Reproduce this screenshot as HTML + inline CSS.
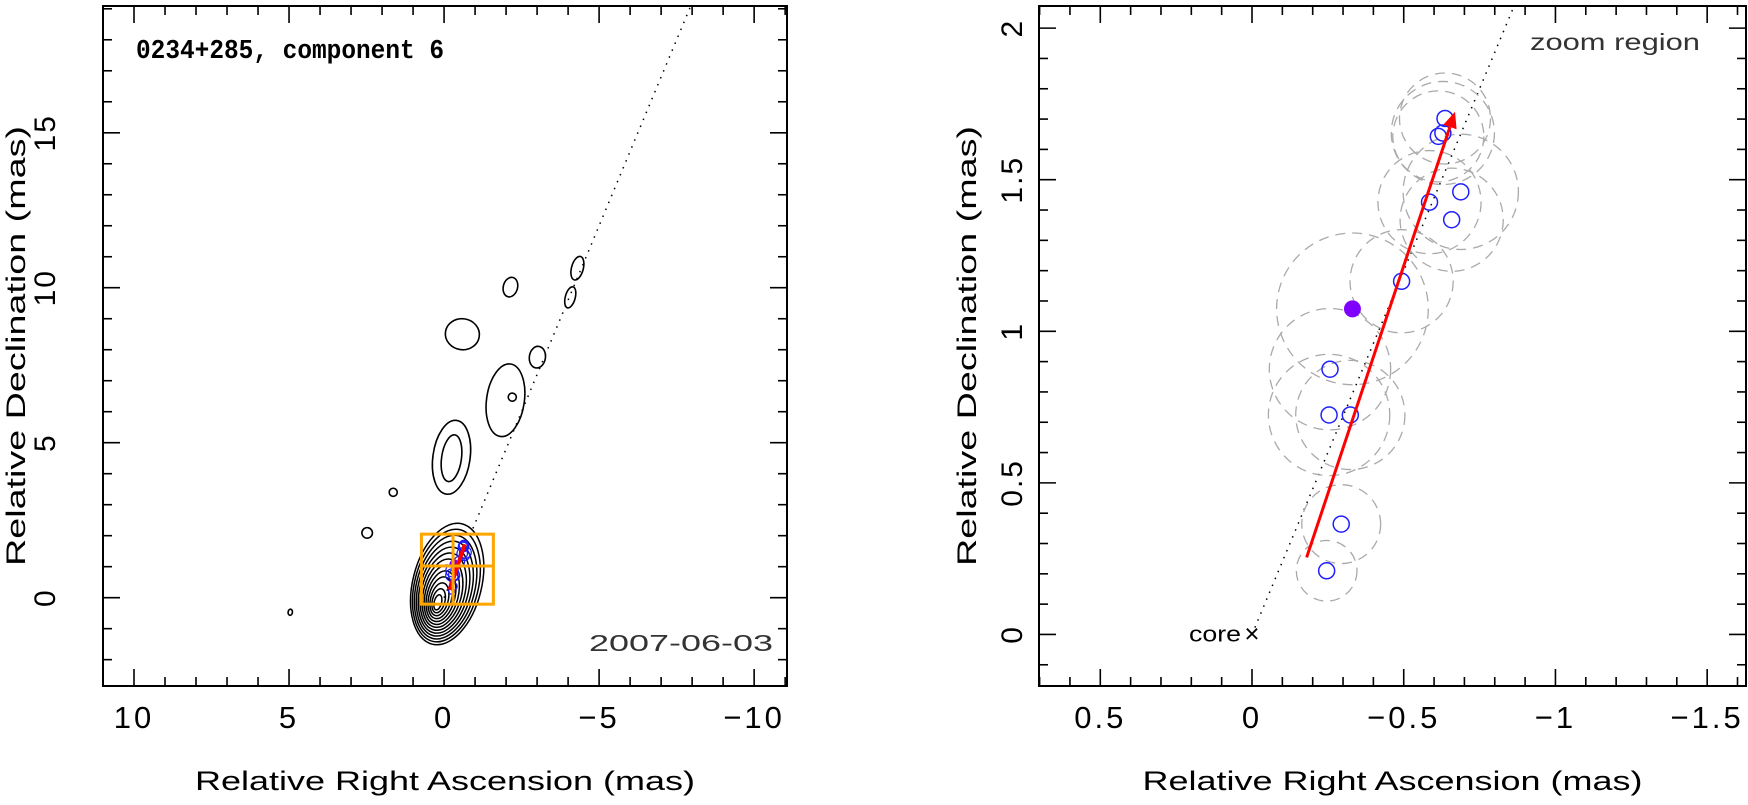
<!DOCTYPE html>
<html><head><meta charset="utf-8"><style>
html,body{margin:0;padding:0;background:#fff;}
svg{display:block;font-family:"Liberation Sans",sans-serif;}
</style></head><body>
<svg id="c" width="1748" height="805" viewBox="0 0 1748 805">
<defs>
<clipPath id="clipL"><rect x="103" y="6" width="684" height="680"/></clipPath>
<clipPath id="clipR"><rect x="1039" y="6" width="707" height="680"/></clipPath>
</defs>
<g id="L"></g>
<g id="R"></g>
</svg>
<script>
// component positions (mas): RA offset, Dec offset, fitted size
const compX = [-0.246,-0.294,-0.254,-0.324,-0.257,-0.493,-0.585,-0.688,-0.658,-0.614,-0.629,-0.636];
const compY = [0.21,0.364,0.724,0.724,0.875,1.165,1.426,1.46,1.368,1.643,1.654,1.702];
const compR = [0.10,0.13,0.20,0.18,0.20,0.17,0.17,0.19,0.17,0.15,0.17,0.15];
const purpleX = [-0.331]; const purpleY = [1.074]; const purpleR = [0.25];
const arrowStart = [-0.18,0.254]; const arrowEnd = [-0.669,1.724];
const dirEnd = [-8.0,19.2];
const blobX = [-0.24,-0.24,-1.98,-2.2,-3.01,-0.59,-2.14,-4.07,-4.3,1.64,2.48,4.96];
const blobY = [4.53,4.5,6.37,6.47,7.76,8.5,10.02,9.69,10.63,3.4,2.09,-0.47];
const blobRX = [0.6,0.32,0.61,0.13,0.26,0.55,0.23,0.16,0.19,0.13,0.17,0.07];
const blobRY = [1.2,0.76,1.18,0.13,0.35,0.5,0.32,0.35,0.39,0.13,0.17,0.1];
const xTicksL = [10,5,0,-5,-10]; const yTicksL = [0,5,10,15];
const xTicksR = [0.5,0,-0.5,-1,-1.5]; const yTicksR = [0,0.5,1,1.5,2];
const boxX = [0.73,-1.59]; const boxY = [-0.21,2.05]; const boxMid = [-0.29,1.02];

const NS="http://www.w3.org/2000/svg";
function mk(parent,tag,attrs){const e=document.createElementNS(NS,tag);for(const k in attrs)e.setAttribute(k,attrs[k]);parent.appendChild(e);return e;}

function panel(g,P){
  const sx=v=>P.x0+(P.xa-v)/(P.xa-P.xb)*(P.x1-P.x0);
  const sy=v=>P.y1-(v-P.ya)/(P.yb-P.ya)*(P.y1-P.y0);
  P.sx=sx;P.sy=sy;
  const fr=mk(g,'rect',{x:P.x0,y:P.y0,width:P.x1-P.x0,height:P.y1-P.y0,fill:'none',stroke:'#000','stroke-width':2});
  
  
  const nx=Math.round((P.xa-P.xb)/P.mx);
  for(let i=-2;i<=nx+2;i++){const v=Math.round((Math.ceil(P.xb/P.mx)*P.mx+i*P.mx)*1000)/1000;
    if(v<P.xb||v>P.xa)continue;const X=sx(v);const maj=Math.abs(v/P.Mx-Math.round(v/P.Mx))<1e-6;const L=maj?17:9;
    mk(g,'line',{x1:X,y1:P.y1,x2:X,y2:P.y1-L,stroke:'#000','stroke-width':1.6});
    mk(g,'line',{x1:X,y1:P.y0,x2:X,y2:P.y0+L,stroke:'#000','stroke-width':1.6});}
  const ny=Math.round((P.yb-P.ya)/P.my);
  for(let i=-2;i<=ny+2;i++){const v=Math.round((Math.ceil(P.ya/P.my)*P.my+i*P.my)*1000)/1000;
    if(v<P.ya||v>P.yb)continue;const Y=sy(v);const maj=Math.abs(v/P.My-Math.round(v/P.My))<1e-6;const L=maj?17:9;
    mk(g,'line',{x1:P.x0,y1:Y,x2:P.x0+L,y2:Y,stroke:'#000','stroke-width':1.6});
    mk(g,'line',{x1:P.x1,y1:Y,x2:P.x1-L,y2:Y,stroke:'#000','stroke-width':1.6});}
  P.xt.forEach(v=>{const t=mk(g,'text',{x:sx(v),y:728,'text-anchor':'middle','font-size':31,'letter-spacing':3,fill:'#000'});
    t.textContent=(v<0?'\u2212'+(-v):String(v));
    
    });
  P.yt.forEach(v=>{const Y=sy(v);const t=mk(g,'text',{x:P.ylx,y:Y,'text-anchor':'middle','font-size':30,'letter-spacing':2,fill:'#000',transform:`rotate(-90 ${P.ylx} ${Y})`});
    t.textContent=String(v);
    
    });
  const xt=mk(g,'text',{x:(P.x0+P.x1)/2-250,y:790,'font-size':27,fill:'#000',textLength:500,lengthAdjust:'spacingAndGlyphs'});
  xt.textContent='Relative Right Ascension (mas)';
  
  
  const yy=(P.y0+P.y1)/2;
  const yt=mk(g,'text',{x:P.ytx,y:yy+220,'font-size':27,fill:'#000',textLength:440,lengthAdjust:'spacingAndGlyphs',transform:`rotate(-90 ${P.ytx} ${yy+220})`});
  yt.textContent='Relative Declination (mas)';
  
  
}

// LEFT
const PL={x0:103,x1:787,y0:6,y1:686,xa:11,xb:-11.06,ya:-2.85,yb:19.09,mx:1,Mx:5,my:1,My:5,xt:xTicksL,yt:yTicksL,ylx:55,ytx:25};
const gL=document.getElementById('L');panel(gL,PL);
const cL=mk(gL,'g',{'clip-path':'url(#clipL)'});
const pxL=31;
let dl=mk(cL,'line',{x1:PL.sx(0),y1:PL.sy(0),x2:PL.sx(dirEnd[0]),y2:PL.sy(dirEnd[1]),stroke:'#000','stroke-width':1.5,'stroke-dasharray':'1.5 6'});


blobX.forEach((v,i)=>{const e=mk(cL,'ellipse',{cx:PL.sx(v),cy:PL.sy(blobY[i]),rx:blobRX[i]*pxL,ry:blobRY[i]*pxL,fill:'none',stroke:'#000','stroke-width':1.6,transform:`rotate(${i>=6&&i<=8?15:8} ${PL.sx(v)} ${PL.sy(blobY[i])})`});
  
  });
for(let k=0;k<13;k++){const f=k/12;
  const cx=PL.sx(0.2+(-0.3)*f), cy=PL.sy(-0.15+0.59*f);
  const e=mk(cL,'ellipse',{cx:cx,cy:cy,rx:(0.12+0.99*f)*pxL,ry:(0.25+1.75*f)*pxL,fill:'none',stroke:'#000','stroke-width':1.5,transform:`rotate(14 ${cx} ${cy})`});
  
  }
compX.forEach((v,i)=>{const c=mk(cL,'circle',{cx:PL.sx(v),cy:PL.sy(compY[i]),r:compR[i]*pxL,fill:'none',stroke:'#1a1aff','stroke-width':1.2});
  
  });
let pd=mk(cL,'circle',{cx:PL.sx(purpleX[0]),cy:PL.sy(purpleY[0]),r:5,fill:'#8000ff'});


let ra=mk(cL,'line',{x1:PL.sx(arrowStart[0]),y1:PL.sy(arrowStart[1]),x2:PL.sx(arrowEnd[0]),y2:PL.sy(arrowEnd[1]),stroke:'#ff0000','stroke-width':4});


let bx=mk(gL,'rect',{x:PL.sx(boxX[0]),y:PL.sy(boxY[1]),width:PL.sx(boxX[1])-PL.sx(boxX[0]),height:PL.sy(boxY[0])-PL.sy(boxY[1]),fill:'none',stroke:'#ffa500','stroke-width':3});


mk(gL,'line',{x1:PL.sx(boxMid[0]),y1:PL.sy(boxY[0]),x2:PL.sx(boxMid[0]),y2:PL.sy(boxY[1]),stroke:'#ffa500','stroke-width':3});
mk(gL,'line',{x1:PL.sx(boxX[0]),y1:PL.sy(boxMid[1]),x2:PL.sx(boxX[1]),y2:PL.sy(boxMid[1]),stroke:'#ffa500','stroke-width':3});
let ti=mk(gL,'text',{x:136,y:58,'font-size':27,'font-weight':'bold','font-family':'Liberation Mono, monospace',fill:'#000',textLength:308,lengthAdjust:'spacingAndGlyphs'});
ti.textContent='0234+285, component 6';


let dt=mk(gL,'text',{x:589,y:651,'font-size':23,fill:'#333',textLength:184,lengthAdjust:'spacingAndGlyphs'});
dt.textContent='2007-06-03';



// RIGHT
const PR={x0:1039,x1:1746,y0:6,y1:686,xa:0.702,xb:-1.628,ya:-0.17,yb:2.073,mx:0.1,Mx:0.5,my:0.1,My:0.5,xt:xTicksR,yt:yTicksR,ylx:1022,ytx:976};
const gR=document.getElementById('R');panel(gR,PR);
const cR=mk(gR,'g',{'clip-path':'url(#clipR)'});
const pxR=303.4;
let dr=mk(cR,'line',{x1:PR.sx(0),y1:PR.sy(0),x2:PR.sx(dirEnd[0]),y2:PR.sy(dirEnd[1]),stroke:'#000','stroke-width':1.5,'stroke-dasharray':'1.5 6'});


compX.concat(purpleX).forEach((v,i)=>{const y=compY.concat(purpleY)[i],r=compR.concat(purpleR)[i];
  const c=mk(cR,'circle',{cx:PR.sx(v),cy:PR.sy(y),r:r*pxR,fill:'none',stroke:'#aaa','stroke-width':1.3,'stroke-dasharray':'10 7'});
  
  });
compX.forEach((v,i)=>{const c=mk(cR,'circle',{cx:PR.sx(v),cy:PR.sy(compY[i]),r:8,fill:'none',stroke:'#2020ff','stroke-width':1.5});
  
  });
let pr=mk(cR,'circle',{cx:PR.sx(purpleX[0]),cy:PR.sy(purpleY[0]),r:8.5,fill:'#8000ff'});


(function(){const x1=PR.sx(arrowStart[0]),y1=PR.sy(arrowStart[1]),x2=PR.sx(arrowEnd[0]),y2=PR.sy(arrowEnd[1]);
  const a=Math.atan2(y2-y1,x2-x1),h=16,w=7;
  const bx=x2-h*Math.cos(a),by=y2-h*Math.sin(a);
  const l=mk(cR,'line',{x1:x1,y1:y1,x2:bx,y2:by,stroke:'#ff0000','stroke-width':3});
  
  
  const p=mk(cR,'polygon',{points:`${x2},${y2} ${bx+w*Math.sin(a)},${by-w*Math.cos(a)} ${bx-w*Math.sin(a)},${by+w*Math.cos(a)}`,fill:'#ff0000'});
  
  })();
let cx0=PR.sx(0),cy0=PR.sy(0);
let cm=mk(gR,'text',{x:cx0,y:cy0+8,'text-anchor':'middle','font-size':26,fill:'#000'});cm.textContent='\u00d7';


let cl=mk(gR,'text',{x:cx0-63,y:cy0+7,'font-size':22,fill:'#000',textLength:52,lengthAdjust:'spacingAndGlyphs'});cl.textContent='core';


let zr=mk(gR,'text',{x:1530,y:50,'font-size':23,fill:'#333',textLength:170,lengthAdjust:'spacingAndGlyphs'});zr.textContent='zoom region';


</script>
</body></html>
